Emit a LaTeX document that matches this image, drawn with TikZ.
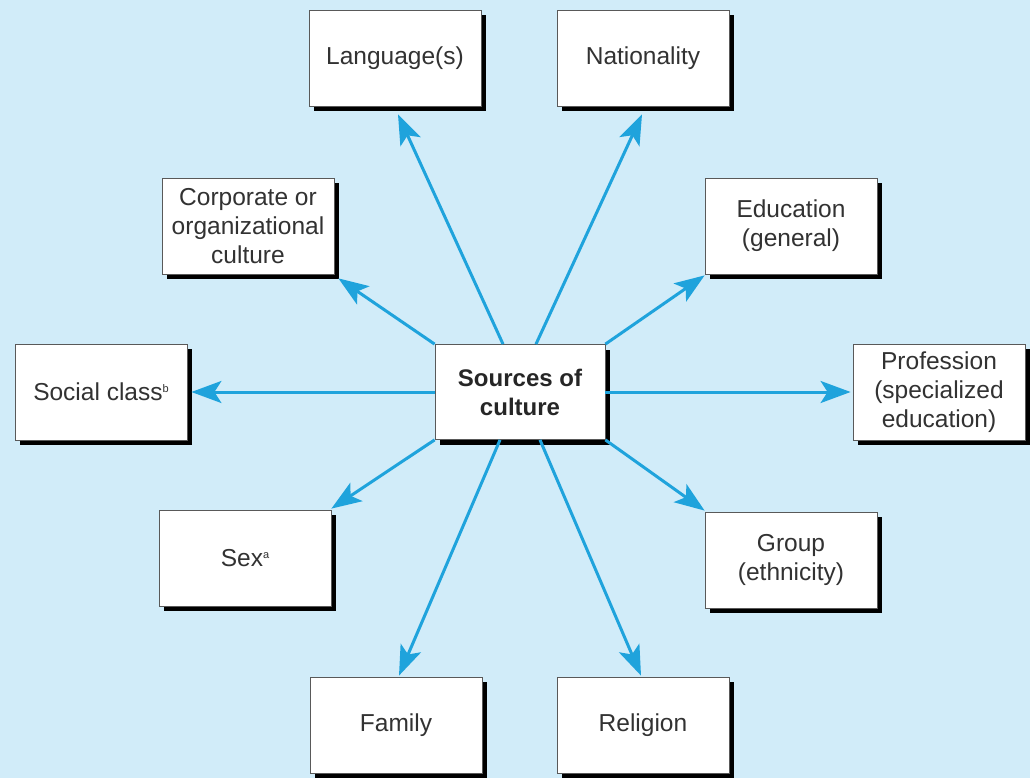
\documentclass[tikz,border=0pt]{standalone}
\usepackage{fontspec}
\setmainfont{Liberation Sans}
\usetikzlibrary{arrows.meta,shadows,calc}

\definecolor{bgblue}{RGB}{209,236,249}
\definecolor{arrowblue}{RGB}{31,163,220}
\definecolor{txtgray}{RGB}{50,50,50}

\newcommand{\supmark}[1]{\raisebox{0.65ex}{\fontsize{11}{11}\selectfont #1}}

\tikzset{
  srcbox/.style={
    draw=black!65, line width=0.8pt, fill=white,
    minimum width=172pt, minimum height=96pt,
    align=center, text=txtgray, inner sep=2pt,
    font=\fontsize{24.5}{29}\selectfont,
    drop shadow={shadow xshift=5pt, shadow yshift=-5pt, fill=black, opacity=1}
  },
  hubbox/.style={srcbox, minimum width=170pt, minimum height=95pt,
    text=black!85, font=\fontsize{24}{29}\selectfont\bfseries},
  flow/.style={
    draw=arrowblue, line width=3pt,
    -{Stealth[length=30pt, width=22pt, inset=7pt]}
  }
}

\begin{document}
\begin{tikzpicture}[x=1pt, y=-1pt]
  % background
  \fill[bgblue] (0,0) rectangle (1030,778);
  \useasboundingbox (0,0) rectangle (1030,778);

  % outer boxes
  \node[srcbox] (lang) at (395,58)  {Language(s)};
  \node[srcbox] (nat)  at (643,58)  {Nationality};
  \node[srcbox] (corp) at (248,226) {Corporate or\\organizational\\culture};
  \node[srcbox] (edu)  at (791,226) {Education\\(general)};
  \node[srcbox] (soc)  at (101,392) {Social class\supmark{b}};
  \node[srcbox] (prof) at (939,392) {Profession\\(specialized\\education)};
  \node[srcbox] (sex)  at (245,558) {Sex\supmark{a}};
  \node[srcbox] (grp)  at (791,560) {Group\\(ethnicity)};
  \node[srcbox] (fam)  at (396,725) {Family};
  \node[srcbox] (rel)  at (643,725) {Religion};

  % central box
  \node[hubbox] (src) at (520,392) {Sources of\\culture};

  % connectors radiating from the centre
  \draw[flow] ($(src.north)+(-17,0)$) -- ($(lang.south)+(3,8)$);
  \draw[flow] ($(src.north)+(16,0)$)  -- ($(nat.south)+(-1,8)$);
  \draw[flow] (src.north west) -- ($(corp.south east)+(4,4)$);
  \draw[flow] (src.north east) -- ($(edu.south west)+(0,1)$);
  \draw[flow] (src.west) -- ($(soc.east)+(4,0)$);
  \draw[flow] (src.east) -- ($(prof.west)+(-2,0)$);
  \draw[flow] (src.south west) -- ($(sex.north east)+(0,-1)$);
  \draw[flow] (src.south east) -- ($(grp.north west)+(0,-1)$);
  \draw[flow] ($(src.south)+(-20,0)$) -- ($(fam.north)+(3,-1)$);
  \draw[flow] ($(src.south)+(20,0)$)  -- ($(rel.north)+(-2,-1)$);
\end{tikzpicture}
\end{document}
